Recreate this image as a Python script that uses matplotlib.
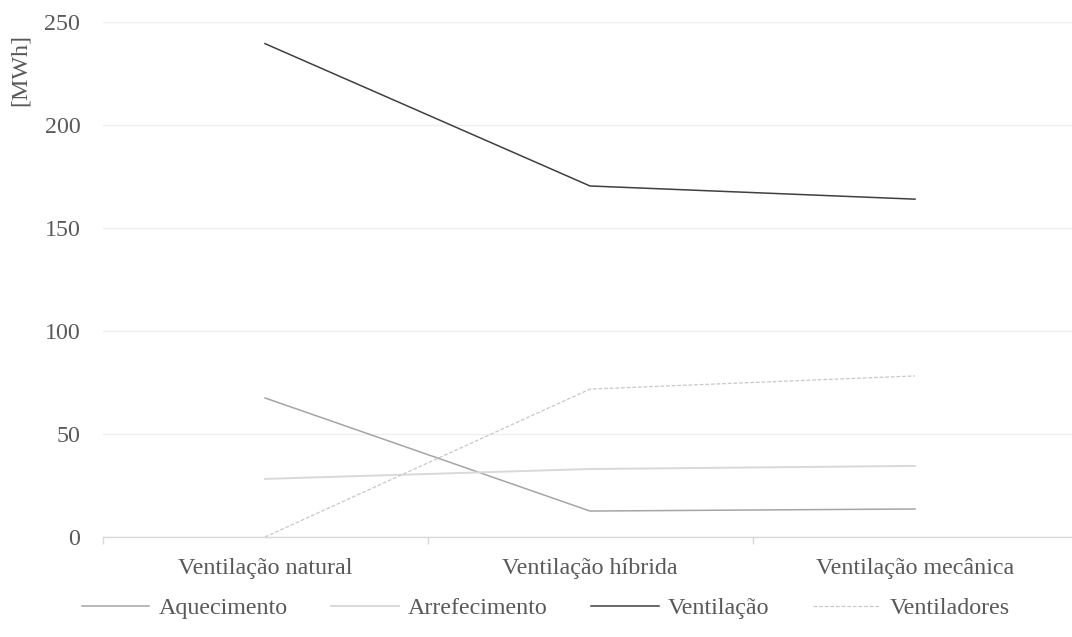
import matplotlib
matplotlib.use("Agg")
import matplotlib.pyplot as plt
from matplotlib.ticker import FixedLocator

plt.rcParams['font.family'] = ['Liberation Serif', 'DejaVu Serif']

categories = ["Ventilação natural", "Ventilação híbrida", "Ventilação mecânica"]
aquecimento = [67.5, 12.6, 13.6]
arrefecimento = [28.2, 33.0, 34.5]
ventilacao = [239.5, 170.4, 164.0]
ventiladores = [0.0, 71.8, 78.2]
y_ticks = [0, 50, 100, 150, 200, 250]

text_color = "#595959"
fs = 17.3

fig = plt.figure(figsize=(10.72, 6.37), dpi=100)
ax = fig.add_axes([102.5 / 1072, 1 - 537 / 637, 975 / 1072, 515 / 637])

x = list(range(len(categories)))
ax.plot(x, aquecimento, color="#A5A5A5", lw=1.1, label="Aquecimento")
ax.plot(x, arrefecimento, color="#D9D9D9", lw=1.4, label="Arrefecimento")
ax.plot(x, ventilacao, color="#404040", lw=1.1, label="Ventilação")
ax.plot(x, ventiladores, color="#C8C8C8", lw=0.9, ls=(0, (3, 1.5)), label="Ventiladores")

ax.set_xlim(-0.5, len(categories) - 0.5)
ax.set_ylim(0, 250)
ax.set_yticks(y_ticks)
ax.set_xticks(x)
ax.set_xticklabels(categories)
ax.xaxis.set_minor_locator(FixedLocator([i - 0.5 for i in range(len(categories) + 1)]))

ax.grid(axis="y", color="#EFEFEF", lw=1.0)
ax.set_axisbelow(True)
for s in ["top", "right", "left"]:
    ax.spines[s].set_visible(False)
ax.spines["bottom"].set_color("#D9D9D9")
ax.spines["bottom"].set_linewidth(1.0)

ax.tick_params(axis="x", which="major", length=0, pad=15, labelsize=fs, labelcolor=text_color)
ax.tick_params(axis="x", which="minor", length=5, color="#D9D9D9", width=1.0)
ax.tick_params(axis="y", length=0, pad=16, labelsize=fs, labelcolor=text_color)

fig.text(20 / 1072, 1 - 70 / 637, "[MWh]", rotation=90, ha="center", va="center",
         fontsize=fs, color=text_color)

fig.legend(loc="center", bbox_to_anchor=(546 / 1072, 1 - 608 / 637), ncol=4, frameon=False,
           fontsize=fs, labelcolor=text_color, handlelength=2.8, handletextpad=0.4,
           columnspacing=1.8, borderpad=0, borderaxespad=0)

fig.savefig("out.png", dpi=100, facecolor="white")
